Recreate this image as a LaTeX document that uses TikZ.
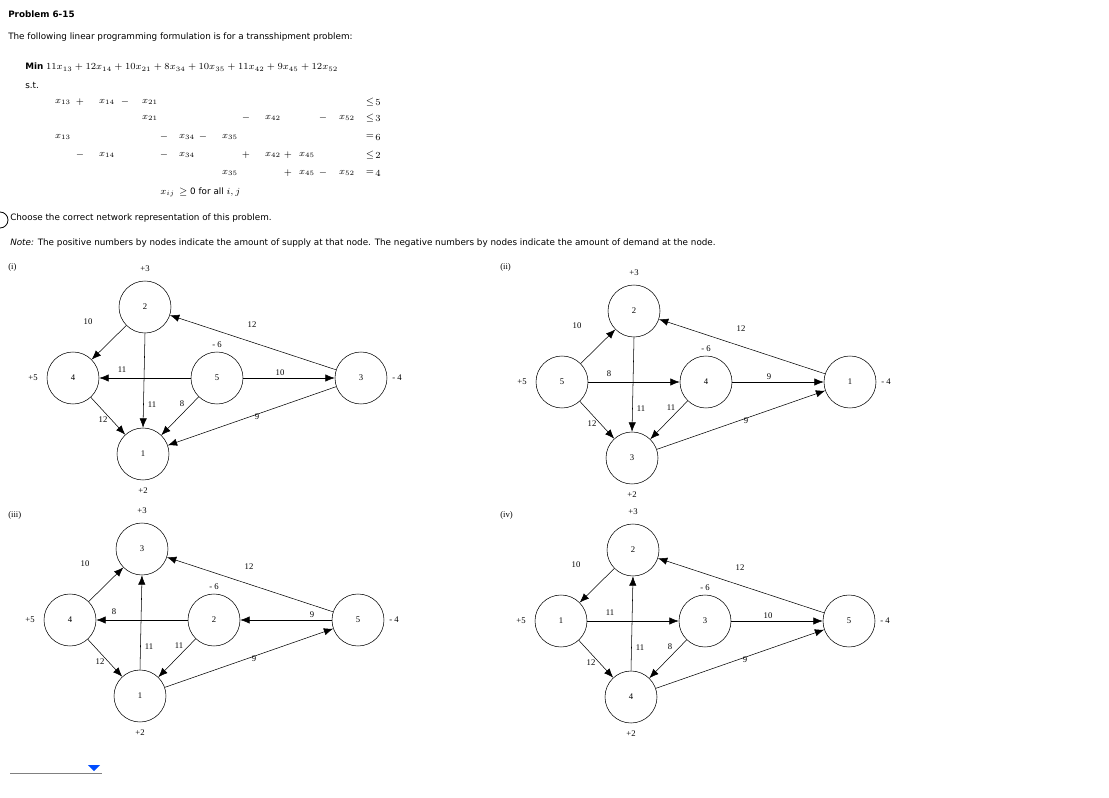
\documentclass[tikz,border=0pt]{standalone}
\usepackage{fontspec}
\setsansfont{DejaVu Sans}
\newfontfamily\nodefont{Liberation Serif}
\usetikzlibrary{arrows.meta}
\begin{document}
\begin{tikzpicture}[x=0.75pt,y=-0.75pt,
  txt/.style={anchor=west,inner sep=0pt,font=\sffamily\fontsize{6.6}{8}\selectfont},
  mth/.style={inner sep=0pt,font=\fontsize{7.5}{9}\selectfont},
  circ/.style={draw,circle,minimum size=39pt,inner sep=0pt,line width=0.4pt,font=\nodefont\fontsize{6.5}{7}\selectfont},
  lab/.style={inner sep=0pt,font=\nodefont\fontsize{6.5}{7}\selectfont},
  arr/.style={-{Latex[length=7pt,width=5.5pt]},line width=0.4pt}]
\useasboundingbox (0,0) rectangle (1109,798);
% header text
\node[txt,font=\sffamily\bfseries\fontsize{6.6}{8}\selectfont] (title) at (8,14) {Problem 6-15};
\node[txt] (intro) at (8,37) {The following linear programming formulation is for a transshipment problem:};
\node[txt] (min) at (25,67) {\textbf{Min} $11x_{13}+12x_{14}+10x_{21}+8x_{34}+10x_{35}+11x_{42}+9x_{45}+12x_{52}$};
\node[txt] (st) at (25,85) {s.t.};
% constraints
\foreach \xx/\yy/\t in {
 63/102/x_{13}, 80/102/+, 107/102/x_{14}, 125/102/-, 150/102/x_{21}, 370/102/\le, 378/102/5,
 150/118/x_{21}, 246/118/-, 273/118/x_{42}, 323/118/-, 347/118/x_{52}, 370/118/\le, 378/118/3,
 63/137/x_{13}, 164/137/-, 187/137/x_{34}, 203/137/-, 230/137/x_{35}, 370/137/=, 378/137/6,
 80/155/-, 107/155/x_{14}, 164/155/-, 187/155/x_{34}, 246/155/+, 273/155/x_{42}, 288/155/+, 307/155/x_{45}, 370/155/\le, 378/155/2,
 230/173/x_{35}, 288/173/+, 307/173/x_{45}, 323/173/-, 347/173/x_{52}, 370/173/=, 378/173/4}
 {\node[mth] at (\xx,\yy) {$\t$};}
\node[txt] (nonneg) at (160,192) {$x_{ij}$ \,$\geq$ 0 for all $i,j$};
\draw[line width=0.6pt] (0,218) ++(0,-6) arc (90:-90:6pt);
\node[txt] (choose) at (10,218) {Choose the correct network representation of this problem.};
\node[txt] (note) at (10,243) {\textit{Note:} The positive numbers by nodes indicate the amount of supply at that node. The negative numbers by nodes indicate the amount of demand at the node.};
\node[txt,font=\nodefont\fontsize{6.5}{7}\selectfont] (l1) at (8,267) {(i)};
\node[txt,font=\nodefont\fontsize{6.5}{7}\selectfont] (l2) at (500,267) {(ii)};
\node[txt,font=\nodefont\fontsize{6.5}{7}\selectfont] (l3) at (8,515) {(iii)};
\node[txt,font=\nodefont\fontsize{6.5}{7}\selectfont] (l4) at (500,515) {(iv)};
% network macro
\newcommand\netw[8]{%
 \node[circ] (#1T) at (#2,#3) {#4};
 \node[circ] (#1L) at (#2-72,#3+71) {#5};
 \node[circ] (#1M) at (#2+72,#3+71) {#6};
 \node[circ] (#1R) at (#2+216,#3+71) {#7};
 \node[circ] (#1B) at (#2-2,#3+147) {#8};
 \node[lab] at (#2,#3-38) {+3};
 \node[lab] at (#2-2,#3+184) {+2};
 \node[lab] at (#2-112,#3+71) {+5};
 \node[lab] at (#2+72,#3+38) {- 6};
 \node[lab] at (#2+252,#3+71) {- 4};}
\newcommand\elab[4]{\node[lab] at (#1+#2,#3+#4)}
% (i)
\netw{a}{145}{307}{2}{4}{5}{3}{1}
\draw[arr] (aT) -- (aL); \elab{145}{-57}{307}{15} {10};
\draw[arr] (aM) -- (aL); \elab{145}{-23}{307}{63} {11};
\draw[arr] (aT.south) -- (aB.north); \elab{145}{7}{307}{98} {11};
\draw[arr] (aL) -- (aB); \elab{145}{-42}{307}{113} {12};
\draw[arr] (aM) -- (aB); \elab{145}{37}{307}{97} {8};
\draw[arr] (aM) -- (aR); \elab{145}{135}{307}{66} {10};
\draw[arr] (aR) -- (aT); \elab{145}{107}{307}{18} {12};
\draw[arr] (aR) -- (aB); \elab{145}{112}{307}{110} {9};
% (ii)
\netw{b}{634}{311}{2}{5}{4}{1}{3}
\draw[arr] (bL) -- (bT); \elab{634}{-57}{311}{15} {10};
\draw[arr] (bL) -- (bM); \elab{634}{-25}{311}{63} {8};
\draw[arr] (bT.south) -- (bB.north); \elab{634}{7}{311}{98} {11};
\draw[arr] (bL) -- (bB); \elab{634}{-42}{311}{113} {12};
\draw[arr] (bM) -- (bB); \elab{634}{37}{311}{97} {11};
\draw[arr] (bM) -- (bR); \elab{634}{135}{311}{66} {9};
\draw[arr] (bR) -- (bT); \elab{634}{107}{311}{18} {12};
\draw[arr] (bB) -- (bR); \elab{634}{112}{311}{110} {9};
% (iii)
\netw{c}{142}{549}{3}{4}{2}{5}{1}
\draw[arr] (cL) -- (cT); \elab{142}{-57}{549}{15} {10};
\draw[arr] (cM) -- (cL); \elab{142}{-28}{549}{63} {8};
\draw[arr] (cB.north) -- (cT.south); \elab{142}{7}{549}{98} {11};
\draw[arr] (cL) -- (cB); \elab{142}{-42}{549}{113} {12};
\draw[arr] (cM) -- (cB); \elab{142}{37}{549}{97} {11};
\draw[arr] (cR) -- (cM); \elab{142}{170}{549}{66} {9};
\draw[arr] (cR) -- (cT); \elab{142}{107}{549}{18} {12};
\draw[arr] (cB) -- (cR); \elab{142}{112}{549}{110} {9};
% (iv)
\netw{d}{633}{550}{2}{1}{3}{5}{4}
\draw[arr] (dT) -- (dL); \elab{633}{-57}{550}{15} {10};
\draw[arr] (dL) -- (dM); \elab{633}{-23}{550}{63} {11};
\draw[arr] (dB.north) -- (dT.south); \elab{633}{7}{550}{98} {11};
\draw[arr] (dL) -- (dB); \elab{633}{-42}{550}{113} {12};
\draw[arr] (dM) -- (dB); \elab{633}{37}{550}{97} {8};
\draw[arr] (dM) -- (dR); \elab{633}{135}{550}{66} {10};
\draw[arr] (dR) -- (dT); \elab{633}{107}{550}{18} {12};
\draw[arr] (dB) -- (dR); \elab{633}{112}{550}{110} {9};
% dropdown
\coordinate (dd1) at (10,773);
\coordinate (dd2) at (102,773);
\draw[line width=0.5pt,gray] (dd1) -- (dd2);
\fill[blue!70!cyan] (88,765) -- (100,765) -- (94,771) -- cycle;
\end{tikzpicture}
\end{document}
